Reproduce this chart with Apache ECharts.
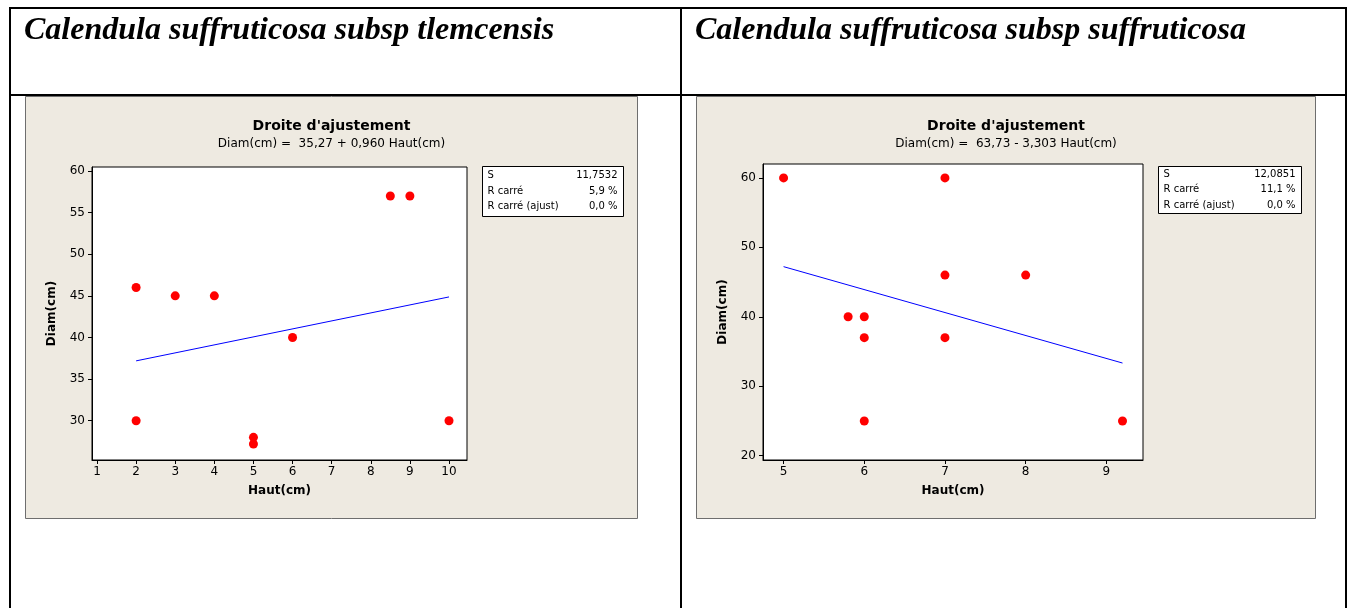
<!DOCTYPE html>
<html>
<head>
<meta charset="utf-8">
<script src="https://cdn.jsdelivr.net/npm/echarts@6/dist/echarts.min.js"></script>
<style>
html,body{margin:0;padding:0;background:#fff;}
#c{width:1356px;height:608px;}
</style>
</head>
<body>
<div id="c"></div>
<script>
// ---- data ----
const leftTitle = "Calendula suffruticosa subsp tlemcensis";
const rightTitle = "Calendula suffruticosa subsp suffruticosa";
const chartTitle = "Droite d'ajustement";
const leftEquation = "Diam(cm) =  35,27 + 0,960 Haut(cm)";
const rightEquation = "Diam(cm) =  63,73 - 3,303 Haut(cm)";
const xName = "Haut(cm)";
const yName = "Diam(cm)";

const leftX = [2, 2, 3, 4, 5, 5, 6, 8.5, 9, 10];
const leftY = [46, 30, 45, 45, 28, 27.2, 40, 57, 57, 30];
const leftFitX = [2, 10];
const leftFitY = [37.19, 44.87];
const leftXTicks = [1, 2, 3, 4, 5, 6, 7, 8, 9, 10];
const leftYTicks = [30, 35, 40, 45, 50, 55, 60];
const leftStatsLabels = ["S", "R carré", "R carré (ajust)"];
const leftStatsValues = ["11,7532", "5,9 %", "0,0 %"];

const rightX = [5, 5.8, 6, 6, 6, 7, 7, 7, 8, 9.2];
const rightY = [60, 40, 40, 37, 25, 60, 46, 37, 46, 25];
const rightFitX = [5, 9.2];
const rightFitY = [47.22, 33.34];
const rightXTicks = [5, 6, 7, 8, 9];
const rightYTicks = [20, 30, 40, 50, 60];
const rightStatsLabels = ["S", "R carré", "R carré (ajust)"];
const rightStatsValues = ["12,0851", "11,1 %", "0,0 %"];

// ---- build ----
const FF = "'DejaVu Sans', Tahoma, sans-serif";
const zip = (a, b) => a.map((v, i) => [v, b[i]]);

function xAxisCfg(idx, min, max, ticks) {
  return {
    gridIndex: idx, type: 'value', min: min, max: max,
    axisLine: { show: true, onZero: false, lineStyle: { color: '#000', width: 1 } },
    axisTick: { show: true, customValues: ticks, length: 4, lineStyle: { color: '#000' } },
    axisLabel: { customValues: ticks, color: '#000', fontSize: 12, fontFamily: FF, margin: 6 },
    splitLine: { show: false },
    name: xName, nameLocation: 'middle', nameGap: 25,
    nameTextStyle: { fontWeight: 'bold', fontSize: 12, color: '#000', fontFamily: FF }
  };
}
function yAxisCfg(idx, min, max, ticks) {
  return {
    gridIndex: idx, type: 'value', min: min, max: max,
    axisLine: { show: true, onZero: false, lineStyle: { color: '#000', width: 1 } },
    axisTick: { show: true, customValues: ticks, length: 4, lineStyle: { color: '#000' } },
    axisLabel: { customValues: ticks, color: '#000', fontSize: 12, fontFamily: FF, margin: 7 },
    splitLine: { show: false },
    name: yName, nameLocation: 'middle', nameGap: 34,
    nameTextStyle: { fontWeight: 'bold', fontSize: 12, color: '#000', fontFamily: FF }
  };
}

function statsBox(x, y, w, h, labels, values, rowY) {
  const els = [{
    type: 'rect', silent: true, z: 5,
    shape: { x: x, y: y, width: w, height: h },
    style: { fill: '#fff', stroke: '#000', lineWidth: 1 }
  }];
  labels.forEach((l, i) => {
    els.push({ type: 'text', silent: true, z: 6, x: x + 5, y: y + rowY[i],
      style: { text: l, fontSize: 10, fontFamily: FF, fill: '#000', verticalAlign: 'middle', align: 'left' } });
    els.push({ type: 'text', silent: true, z: 6, x: x + w - 6, y: y + rowY[i],
      style: { text: values[i], fontSize: 10, fontFamily: FF, fill: '#000', verticalAlign: 'middle', align: 'right' } });
  });
  return els;
}

const graphics = [
  // panels
  { type: 'rect', silent: true, z: -5, shape: { x: 25.5, y: 96.5, width: 612, height: 422 },
    style: { fill: '#EEEAE1', stroke: '#6e6e6e', lineWidth: 1 } },
  { type: 'rect', silent: true, z: -5, shape: { x: 696.5, y: 96.5, width: 619, height: 422 },
    style: { fill: '#EEEAE1', stroke: '#6e6e6e', lineWidth: 1 } },
  // table lines
  { type: 'line', silent: true, shape: { x1: 9, y1: 8, x2: 1347, y2: 8 }, style: { stroke: '#000', lineWidth: 2 } },
  { type: 'line', silent: true, shape: { x1: 9, y1: 95, x2: 1347, y2: 95 }, style: { stroke: '#000', lineWidth: 2 } },
  { type: 'line', silent: true, shape: { x1: 10, y1: 7, x2: 10, y2: 608 }, style: { stroke: '#000', lineWidth: 2 } },
  { type: 'line', silent: true, shape: { x1: 681, y1: 7, x2: 681, y2: 608 }, style: { stroke: '#000', lineWidth: 2 } },
  { type: 'line', silent: true, shape: { x1: 1346, y1: 7, x2: 1346, y2: 608 }, style: { stroke: '#000', lineWidth: 2 } },
  // big titles
  { type: 'text', silent: true, x: 24, y: 31, style: { text: leftTitle, fontSize: 32, fontStyle: 'italic', fontWeight: 'bold',
      fontFamily: "'Liberation Serif', 'Times New Roman', serif", fill: '#000', verticalAlign: 'middle' } },
  { type: 'text', silent: true, x: 695, y: 31, style: { text: rightTitle, fontSize: 32, fontStyle: 'italic', fontWeight: 'bold',
      fontFamily: "'Liberation Serif', 'Times New Roman', serif", fill: '#000', verticalAlign: 'middle' } },
  // chart titles
  { type: 'text', silent: true, x: 331.5, y: 126, style: { text: chartTitle, fontSize: 14, fontWeight: 'bold', fontFamily: FF,
      fill: '#000', align: 'center', verticalAlign: 'middle' } },
  { type: 'text', silent: true, x: 331.5, y: 144, style: { text: leftEquation, fontSize: 12, fontFamily: FF,
      fill: '#000', align: 'center', verticalAlign: 'middle' } },
  { type: 'text', silent: true, x: 1006, y: 126, style: { text: chartTitle, fontSize: 14, fontWeight: 'bold', fontFamily: FF,
      fill: '#000', align: 'center', verticalAlign: 'middle' } },
  { type: 'text', silent: true, x: 1006, y: 144, style: { text: rightEquation, fontSize: 12, fontFamily: FF,
      fill: '#000', align: 'center', verticalAlign: 'middle' } }
].concat(
  statsBox(482.5, 166.5, 141, 50, leftStatsLabels, leftStatsValues, [9, 24.5, 40]),
  statsBox(1158.5, 166.5, 143, 47, rightStatsLabels, rightStatsValues, [8, 23, 38.5])
);

const chart = echarts.init(document.getElementById('c'), null, { renderer: 'canvas' });
chart.setOption({
  animation: false,
  backgroundColor: '#fff',
  graphic: graphics,
  grid: [
    { left: 92, top: 167, width: 375, height: 293, show: true, backgroundColor: '#fff', borderColor: '#000', borderWidth: 1 },
    { left: 763, top: 164, width: 380, height: 296, show: true, backgroundColor: '#fff', borderColor: '#000', borderWidth: 1 }
  ],
  xAxis: [
    xAxisCfg(0, 0.872, 10.46, leftXTicks),
    xAxisCfg(1, 4.745, 9.454, rightXTicks)
  ],
  yAxis: [
    yAxisCfg(0, 25.28, 60.48, leftYTicks),
    yAxisCfg(1, 19.38, 62.0, rightYTicks)
  ],
  series: [
    { type: 'line', xAxisIndex: 0, yAxisIndex: 0, data: zip(leftFitX, leftFitY), showSymbol: false,
      lineStyle: { color: '#0000ff', width: 1 }, silent: true },
    { type: 'scatter', xAxisIndex: 0, yAxisIndex: 0, data: zip(leftX, leftY), symbolSize: 9,
      itemStyle: { color: '#ff0000', opacity: 1 } },
    { type: 'line', xAxisIndex: 1, yAxisIndex: 1, data: zip(rightFitX, rightFitY), showSymbol: false,
      lineStyle: { color: '#0000ff', width: 1 }, silent: true },
    { type: 'scatter', xAxisIndex: 1, yAxisIndex: 1, data: zip(rightX, rightY), symbolSize: 9,
      itemStyle: { color: '#ff0000', opacity: 1 } }
  ]
});
</script>
</body>
</html>
